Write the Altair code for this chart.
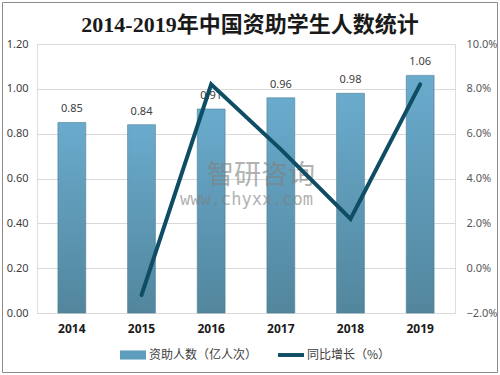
import altair as alt
import pandas as pd

years = ["2014", "2015", "2016", "2017", "2018", "2019"]
persons = [0.85, 0.84, 0.91, 0.96, 0.98, 1.06]
growth = [None, -0.012, 0.082, 0.053, 0.022, 0.082]
series_names = ["资助人数（亿人次）", "同比增长（%）"]
title_text = "2014-2019年中国资助学生人数统计"

df = pd.DataFrame({"year": years, "persons": persons, "growth": growth})
legend_df = pd.DataFrame({"series": series_names})

W, H = 418, 269
FONT = "Noto Sans"
CJK = "Noto Sans CJK SC"

x_enc = alt.X("year:N", sort=years,
              scale=alt.Scale(paddingInner=0.6, paddingOuter=0.3),
              axis=alt.Axis(title=None, labelAngle=0, labelFont=FONT, labelFontSize=12,
                            labelFontWeight="bold", labelColor="#1a1a1a", labelPadding=10,
                            ticks=False, domain=True, domainColor="#d9d9d9", grid=False))

y_left = alt.Y("persons:Q", scale=alt.Scale(domain=[0, 1.2], nice=False),
               axis=alt.Axis(title=None, values=[0, 0.2, 0.4, 0.6, 0.8, 1.0, 1.2], format=".2f",
                             labelFont=FONT, labelFontSize=11, labelColor="#404040",
                             labelPadding=9, ticks=False, domain=False,
                             grid=True, gridColor="#d9d9d9", gridWidth=1))

grad = alt.Gradient(gradient="linear", x1=0, x2=0, y1=0, y2=1,
                    stops=[alt.GradientStop(color="#6aabcd", offset=0),
                           alt.GradientStop(color="#52869d", offset=1)])

bars = alt.Chart(df).mark_bar(color=grad, stroke="#4d7f94", strokeWidth=0.6).encode(
    x=x_enc, y=y_left)

labels = alt.Chart(df).mark_text(baseline="bottom", dy=-8, font=FONT, fontSize=11,
                                  color="#404040").encode(
    x=alt.X("year:N", sort=years), y="persons:Q", text=alt.Text("persons:Q", format=".2f"))

left = alt.layer(bars, labels)

line = alt.Chart(df).transform_filter("isValid(datum.growth)").mark_line(
    color="#0e4d64", strokeWidth=4, strokeCap="round", strokeJoin="miter").encode(
    x=alt.X("year:N", sort=years),
    y=alt.Y("growth:Q", scale=alt.Scale(domain=[-0.02, 0.10], nice=False),
            axis=alt.Axis(title=None, orient="right",
                          values=[-0.02, 0, 0.02, 0.04, 0.06, 0.08, 0.10], format=".1%",
                          labelFont=FONT, labelFontSize=11, labelColor="#595959",
                          labelPadding=11, ticks=False, domain=False, grid=False)))

wm1 = alt.Chart(alt.Data(values=[{"t": "智研咨询"}])).mark_text(
    font=CJK, fontSize=27, color="#808080", opacity=0.6, align="left", baseline="middle"
).encode(x=alt.value(170), y=alt.value(132), text="t:N")
wm2 = alt.Chart(alt.Data(values=[{"t": "www.chyxx.com"}])).mark_text(
    font="DejaVu Sans Mono", fontSize=17, color="#808080", opacity=0.6, align="left",
    baseline="middle"
).encode(x=alt.value(143), y=alt.value(156), text="t:N")

leg = dict(title=None, orient="none", direction="horizontal",
           legendX=83, legendY=298, symbolSize=676,
           symbolStrokeWidth=0, symbolOpacity=1,
           labelFont=CJK, labelFontSize=12, labelColor="#404040",
           labelOffset=3, columnPadding=20)

legend_layer = alt.Chart(legend_df).mark_point(filled=True, opacity=0).encode(
    color=alt.Color("series:N", sort=series_names,
                    scale=alt.Scale(domain=series_names, range=["#5f9dbd", "#0e4d64"]),
                    legend=alt.Legend(**leg)),
    shape=alt.Shape("series:N", sort=series_names,
                    scale=alt.Scale(domain=series_names,
                                    range=["M-1,-0.35H1V0.35H-1Z", "M-1,-0.15H1V0.15H-1Z"]),
                    legend=alt.Legend(**leg)))

frame = alt.Chart(alt.Data(values=[{"a": 1}])).mark_rect(
    fill=None, stroke="#8c8c8c", strokeWidth=1, clip=False
).encode(x=alt.value(-34.5), x2=alt.value(460.5), y=alt.value(-41.5), y2=alt.value(328.5))

chart = alt.layer(left, wm1, wm2, line, legend_layer, frame).resolve_scale(
    y="independent"
).properties(
    width=W, height=H,
    autosize=alt.AutoSizeParams(type="none"),
    padding={"left": 37, "top": 44, "right": 45, "bottom": 62},
    title=alt.TitleParams(title_text, font="Liberation Serif, Noto Sans CJK SC", fontSize=22,
                          fontWeight="bold", color="#1a1a1a", anchor="middle",
                          offset=0, dx=4, dy=35),
).configure_view(stroke=None).configure(background="white")

chart.save("out.html", embed_options={"renderer": "svg", "actions": False})
